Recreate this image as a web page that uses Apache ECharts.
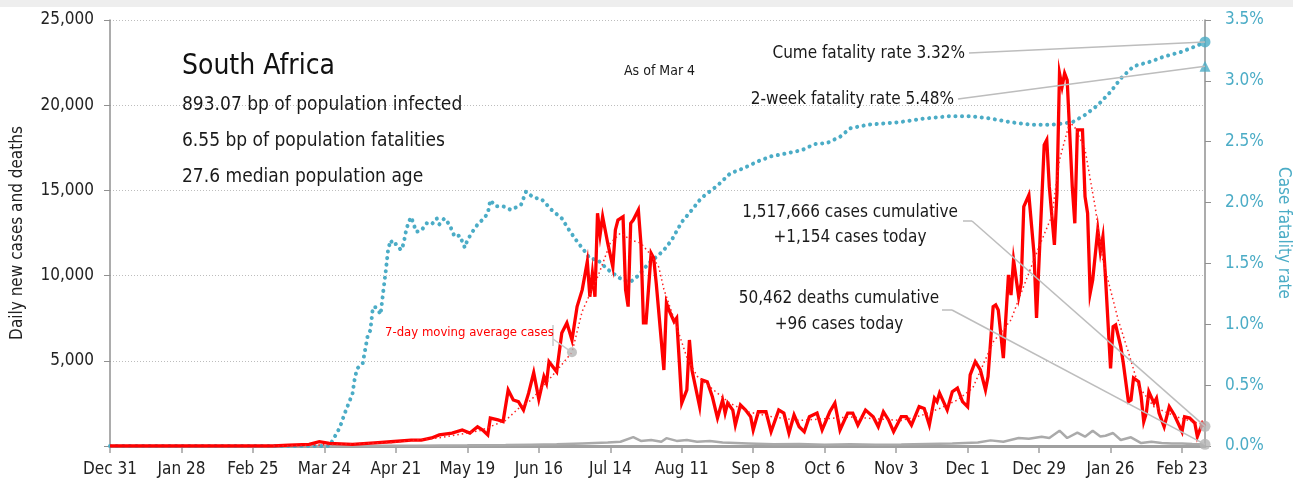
<!DOCTYPE html>
<html>
<head>
<meta charset="utf-8">
<title>South Africa – daily cases, deaths and case fatality rate</title>
<script src="https://cdn.jsdelivr.net/npm/echarts@6/dist/echarts.min.js"></script>
<style>
  html, body { margin: 0; padding: 0; background: #ffffff; overflow: hidden; }
  #chart { width: 1293px; height: 484px; }
</style>
</head>
<body>
<div id="chart"></div>
<script>
// ---- data (day = days since Dec 31, 2019) ----
const xTickLabels = ['Dec 31', 'Jan 28', 'Feb 25', 'Mar 24', 'Apr 21', 'May 19', 'Jun 16', 'Jul 14',
  'Aug 11', 'Sep 8', 'Oct 6', 'Nov 3', 'Dec 1', 'Dec 29', 'Jan 26', 'Feb 23'];
const lastDay = 429; // Mar 4, 2021

const caseDays = [0, 64, 70, 78, 82, 86, 95, 105, 110, 118, 122, 126, 129, 134, 138, 141, 144, 146, 148, 149,
  152, 154, 156, 158, 160, 162, 164, 166, 168, 170, 171, 172, 175, 177, 179, 181, 183, 185, 187, 188,
  189, 190, 191, 192, 193, 195, 197, 198, 199, 201, 202, 203, 204, 205, 207, 208, 209, 210, 212, 213,
  214, 217, 218, 219, 221, 222, 223, 224, 226, 227, 228, 231, 232, 234, 236, 238, 240, 241, 242, 244,
  245, 247, 249, 251, 252, 254, 257, 259, 262, 264, 266, 268, 270, 272, 274, 277, 279, 282, 284, 286,
  289, 291, 293, 296, 299, 301, 303, 305, 307, 310, 312, 314, 317, 319, 321, 323, 324, 325, 328, 330,
  332, 334, 336, 337, 339, 341, 343, 344, 346, 347, 348, 350, 352, 353, 354, 356, 357, 358, 360, 362,
  363, 366, 367, 368, 370, 371, 372, 373, 374, 375, 377, 378, 379, 381, 382, 383, 384, 385, 387, 388,
  389, 390, 392, 393, 394, 396, 397, 399, 400, 401, 403, 404, 405, 406, 407, 409, 410, 411, 413, 415,
  417, 420, 421, 423, 425, 426, 428, 429];
const cases = [0, 0, 50, 100, 250, 150, 100, 200, 250, 350, 350, 470, 650, 760, 940, 760, 1130, 940, 650, 1640,
  1530, 1430, 3290, 2700, 2600, 2110, 3100, 4300, 2750, 4070, 3690, 4950, 4360, 6630, 7220, 6220, 8180, 9160, 10820, 8760,
  10150, 8760, 13660, 12380, 13460, 11900, 10520, 12680, 13260, 13460, 9160, 8180, 13070, 13260, 13850, 11900, 7220, 7220, 11310, 11030,
  9560, 4460, 8390, 7980, 7300, 7510, 5050, 2520, 3290, 6220, 4460, 2310, 3870, 3770, 2890, 1640, 2700, 1930, 2520, 2110,
  1230, 2410, 2110, 1720, 940, 2010, 2010, 840, 2110, 1930, 760, 1820, 1130, 840, 1720, 1930, 940, 2010, 2520, 940,
  1930, 1930, 1230, 2110, 1720, 1130, 2010, 1530, 840, 1720, 1720, 1230, 2310, 2200, 1230, 2800, 2600, 3100, 2110, 3190,
  3400, 2600, 2300, 4170, 4950, 4460, 3290, 4070, 8180, 8280, 7980, 5160, 10040, 8860, 10920, 8760, 9560, 14050, 14730, 11310,
  7510, 17670, 17960, 15220, 11800, 14850, 21870, 21090, 21870, 21480, 15220, 13070, 18550, 18550, 14630, 13660, 8960, 9740, 12680, 11400,
  12280, 9940, 4560, 7000, 7100, 5830, 4860, 2600, 2700, 3990, 3770, 2890, 1430, 1930, 3190, 2520, 2800, 1930, 1130, 2310,
  1820, 840, 1720, 1640, 1350, 550, 1350, 1154];

// 7-day moving average of cases
const avgDays = [64, 80, 110, 130, 145, 155, 160, 165, 172, 176, 181, 185, 191, 196, 200, 204, 208, 212, 215, 217,
  222, 226, 230, 238, 243, 250, 260, 270, 280, 290, 300, 310, 318, 325, 332, 338, 346, 353, 357, 364,
  369, 372, 376, 378, 382, 386, 389, 395, 399, 403, 409, 418, 429];
const avgCases = [0, 50, 200, 500, 900, 1500, 2200, 2700, 3900, 4600, 5500, 7900, 9900, 11900, 12500, 12100, 11900, 11200, 10500, 9200,
  7000, 5200, 4100, 3100, 2500, 2000, 1700, 1500, 1600, 1700, 1600, 1500, 1800, 2200, 2700, 3400, 6100, 7400, 9000, 11700,
  13500, 16800, 19000, 18700, 17400, 14000, 10900, 7400, 5500, 3500, 2300, 1700, 1230];

const deathDays = [0, 85, 100, 120, 140, 155, 165, 175, 185, 195, 200, 205, 208, 212, 216, 218, 222, 226, 230, 235,
  240, 250, 260, 270, 280, 290, 300, 310, 320, 330, 340, 345, 350, 356, 360, 365, 368, 372, 375, 379,
  382, 385, 388, 390, 393, 396, 400, 404, 408, 412, 416, 420, 424, 429];
const deaths = [0, 0, 10, 20, 40, 60, 80, 100, 150, 200, 250, 520, 300, 350, 250, 460, 300, 350, 250, 300,
  200, 150, 100, 120, 80, 100, 80, 90, 120, 150, 200, 330, 250, 470, 420, 545, 470, 900, 470, 780,
  545, 900, 560, 600, 760, 350, 510, 170, 250, 180, 150, 150, 120, 96];

// case fatality rate, %
const cfrDays = [0, 86, 90, 92, 95, 96, 97, 99, 101, 102, 103, 104, 105, 106, 107, 108, 109, 110, 111, 112,
  114, 115, 116, 117, 118, 119, 120, 122, 124, 126, 128, 129, 131, 133, 135, 137, 138, 139, 140, 142,
  144, 146, 148, 149, 151, 154, 157, 161, 163, 166, 169, 173, 177, 180, 183, 186, 188, 191, 195, 199,
  201, 204, 207, 211, 215, 217, 220, 224, 228, 231, 233, 238, 243, 248, 254, 259, 264, 271, 276, 281,
  286, 290, 297, 303, 309, 319, 329, 337, 345, 353, 361, 369, 377, 382, 387, 392, 396, 401, 408, 413,
  420, 426, 429];
const cfr = [0, 0, 0.15, 0.27, 0.43, 0.57, 0.64, 0.68, 0.91, 0.95, 1.14, 1.14, 1.12, 1.08, 1.26, 1.43, 1.62, 1.69, 1.65, 1.66,
  1.61, 1.66, 1.77, 1.84, 1.88, 1.82, 1.76, 1.77, 1.83, 1.82, 1.87, 1.82, 1.87, 1.82, 1.72, 1.73, 1.68, 1.63, 1.69, 1.76,
  1.82, 1.86, 1.91, 2.02, 1.97, 1.97, 1.94, 1.98, 2.09, 2.04, 2.03, 1.94, 1.87, 1.77, 1.68, 1.60, 1.54, 1.53, 1.45, 1.39,
  1.36, 1.35, 1.40, 1.50, 1.57, 1.61, 1.69, 1.84, 1.94, 2.02, 2.06, 2.14, 2.24, 2.28, 2.34, 2.38, 2.40, 2.43, 2.48, 2.49,
  2.54, 2.61, 2.64, 2.65, 2.66, 2.69, 2.71, 2.71, 2.69, 2.66, 2.64, 2.64, 2.66, 2.72, 2.80, 2.91, 3.02, 3.12, 3.16, 3.20,
  3.24, 3.29, 3.32];

// latest-day markers
const cumeFatalityRate = 3.32;
const twoWeekMarker = 3.12;   // plotted at the edge of the rate scale
const casesToday = 1154;
const deathsToday = 96;
const avgLabelDay = 181;
const avgLabelValue = 5500;

// ---- drawing ----
const FONT = "'Liberation Sans Narrow','DejaVu Sans Condensed','Roboto Condensed','Arial Narrow',sans-serif";
const TEAL = '#4bacc6';
const GREY = '#aaaaaa';
const pairs = (xs, ys) => xs.map((x, i) => [x, ys[i]]);

const chart = echarts.init(document.getElementById('chart'), null, { renderer: 'canvas', width: 1293, height: 484 });

const option = {
  backgroundColor: '#ffffff',
  animation: false,
  textStyle: { fontFamily: FONT },
  grid: { left: 110, right: 88, top: 20, bottom: 38, containLabel: false, outerBoundsMode: 'none' },
  xAxis: {
    type: 'value', min: 0, max: lastDay, interval: 28,
    axisLine: { lineStyle: { color: '#a0a0a0', width: 3 } },
    axisTick: { length: 7, lineStyle: { color: '#a0a0a0', width: 1.5 } },
    axisLabel: {
      showMaxLabel: false, margin: 15, fontSize: 17, color: '#222', fontFamily: FONT,
      formatter: v => xTickLabels[Math.round(v / 28)] || ''
    },
    splitLine: { show: false }
  },
  yAxis: [{
    type: 'value', min: 0, max: 25000, interval: 5000, position: 'left',
    name: 'Daily new cases and deaths', nameLocation: 'middle', nameGap: 84, nameRotate: 90,
    nameTextStyle: { fontSize: 17, color: '#222', fontFamily: FONT },
    axisLine: { show: true, lineStyle: { color: '#909090', width: 1.5 } },
    axisTick: { show: true, length: 6, lineStyle: { color: '#909090' } },
    axisLabel: {
      fontSize: 17, color: '#222', margin: 16, fontFamily: FONT,
      formatter: v => v === 0 ? '' : v.toLocaleString('en-US')
    },
    splitLine: { show: true, lineStyle: { color: '#bdbdbd', type: [1, 2], width: 1 } }
  }, {
    type: 'value', min: 0, max: 3.5, interval: 0.5, position: 'right',
    name: 'Case fatality rate', nameLocation: 'middle', nameGap: 62, nameRotate: -90,
    nameTextStyle: { fontSize: 17, color: TEAL, fontFamily: FONT },
    axisLine: { show: true, lineStyle: { color: '#909090', width: 1.5 } },
    axisTick: { show: true, length: 6, lineStyle: { color: '#909090' } },
    axisLabel: { fontSize: 17, color: TEAL, margin: 20, fontFamily: FONT, formatter: v => v.toFixed(1) + '%' },
    splitLine: { show: false }
  }],
  series: [
    {
      name: 'Deaths', type: 'line', data: pairs(deathDays, deaths), showSymbol: false, symbol: 'none',
      lineStyle: { color: GREY, width: 2.5 }, z: 3
    },
    {
      name: 'Case fatality rate', type: 'line', yAxisIndex: 1, data: pairs(cfrDays, cfr), symbol: 'none',
      lineStyle: { color: TEAL, width: 4, type: [0.1, 6.5], cap: 'round' }, z: 4
    },
    {
      name: 'Daily cases', type: 'line', data: pairs(caseDays, cases), symbol: 'none',
      lineStyle: { color: '#ff0000', width: 3.3, join: 'miter' }, z: 5
    },
    {
      name: '7-day moving average', type: 'line', data: pairs(avgDays, avgCases), symbol: 'none',
      lineStyle: { color: '#ff2020', width: 1.5, type: [1.5, 3] }, z: 6
    },
    {
      name: 'Markers (rate)', type: 'scatter', yAxisIndex: 1, z: 8,
      data: [
        { value: [lastDay, cumeFatalityRate], symbol: 'circle', symbolSize: 11 },
        { value: [lastDay, twoWeekMarker], symbol: 'triangle', symbolSize: 11 }
      ],
      itemStyle: { color: TEAL }
    },
    {
      name: 'Markers (counts)', type: 'scatter', z: 8,
      data: [
        { value: [lastDay, casesToday], symbolSize: 11 },
        { value: [lastDay, deathsToday], symbolSize: 11 },
        { value: [avgLabelDay, avgLabelValue], symbolSize: 10 }
      ],
      itemStyle: { color: '#b4b4b4' }
    }
  ]
};
chart.setOption(option);

// ---- annotations ----
const px = (day, v, axis) => chart.convertToPixel({ xAxisIndex: 0, yAxisIndex: axis }, [day, v]);
const pCume = px(lastDay, cumeFatalityRate, 1);
const pTwo = px(lastDay, twoWeekMarker, 1);
const pCases = px(lastDay, casesToday, 0);
const pDeaths = px(lastDay, deathsToday, 0);
const pAvg = px(avgLabelDay, avgLabelValue, 0);

const txt = (x, y, text, size, opts = {}) => ({
  type: 'text', x, y, silent: true, z: 20,
  style: Object.assign({ text, fontSize: size, fontFamily: FONT, fill: '#1a1a1a', align: 'left', verticalAlign: 'middle' }, opts)
});
const seg = (x1, y1, x2, y2, color = '#bdbdbd') => ({
  type: 'line', silent: true, z: 15,
  shape: { x1, y1, x2, y2 }, style: { stroke: color, lineWidth: 1.5 }
});

chart.setOption({
  graphic: [
    { type: 'rect', shape: { x: 0, y: 0, width: 1293, height: 7 }, style: { fill: '#eeeeee' }, silent: true },
    txt(182, 67, 'South Africa', 28, { fontWeight: 'normal', fill: '#111' }),
    txt(182, 105, '893.07 bp of population infected', 19),
    txt(182, 141, '6.55 bp of population fatalities', 19),
    txt(182, 177, '27.6 median population age', 19),
    txt(624, 71, 'As of Mar 4', 14),
    txt(965, 54, 'Cume fatality rate 3.32%', 17, { align: 'right' }),
    txt(954, 100, '2-week fatality rate 5.48%', 17, { align: 'right' }),
    txt(850, 213, '1,517,666 cases cumulative', 17, { align: 'center' }),
    txt(850, 238, '+1,154 cases today', 17, { align: 'center' }),
    txt(839, 299, '50,462 deaths cumulative', 17, { align: 'center' }),
    txt(839, 325, '+96 cases today', 17, { align: 'center' }),
    txt(385, 333, '7-day moving average cases', 13, { fill: '#ff0000' }),
    seg(969, 53, pCume[0], pCume[1]),
    seg(958, 99, pTwo[0], pTwo[1]),
    seg(963, 221, 972, 221), seg(972, 221, pCases[0], pCases[1]),
    seg(942, 310, 952, 310), seg(952, 310, pDeaths[0], pDeaths[1]),
    seg(553, 325, 553, 346, '#c8c8c8'), seg(553, 339, pAvg[0], pAvg[1], '#c8c8c8')
  ]
});
</script>
</body>
</html>
